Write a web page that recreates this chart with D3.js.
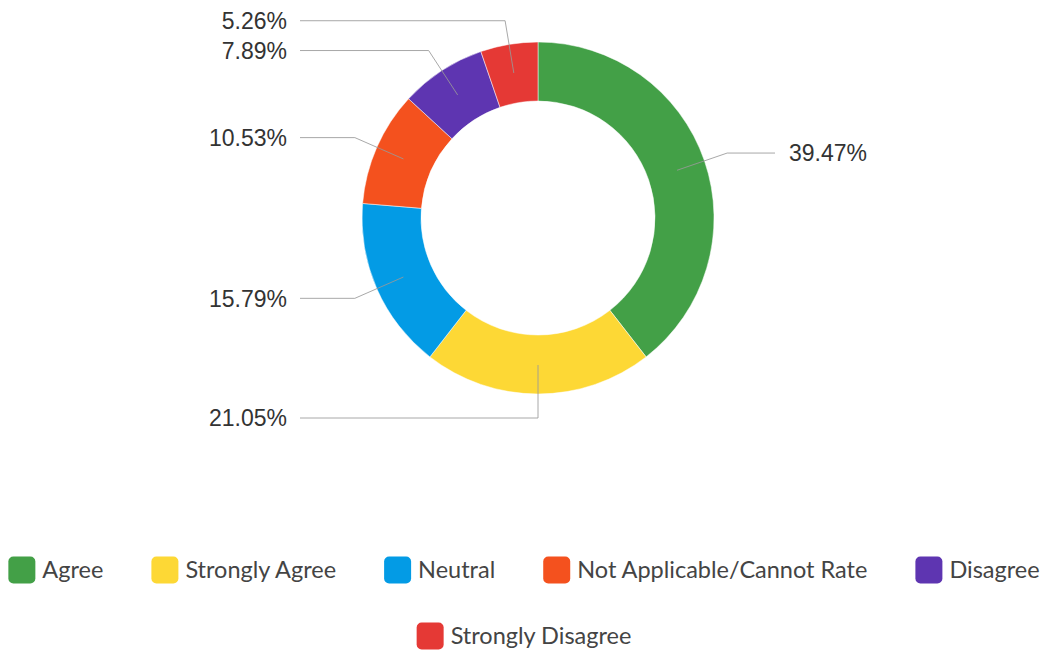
<!DOCTYPE html>
<html><head><meta charset="utf-8">
<script src="https://cdn.jsdelivr.net/npm/d3@7"></script>
<style>body{margin:0;background:#fff;}svg{display:block;}</style>
</head><body>
<svg id="c" width="1044" height="655"></svg>
<script>
const categories = ["Agree","Strongly Agree","Neutral","Not Applicable/Cannot Rate","Disagree","Strongly Disagree"];
const values = [39.47, 21.05, 15.79, 10.53, 7.89, 5.26];
const labels = ["39.47%","21.05%","15.79%","10.53%","7.89%","5.26%"];
const colors = ["#43a047","#fdd835","#039be5","#f4511e","#5e35b1","#e53935"];

const svg = d3.select("#c");
const cx = 538, cy = 218, R = 176, r = 117;
const data = categories.map((c,i)=>({cat:c, value:values[i], label:labels[i], color:colors[i]}));
const pie = d3.pie().value(d=>d.value).sort(null);
const arcs = pie(data);
const arc = d3.arc().innerRadius(r).outerRadius(R);
const g = svg.append("g").attr("transform",`translate(${cx},${cy})`);
g.selectAll("path").data(arcs).join("path").attr("d",arc).attr("fill",d=>d.data.color)
  .attr("stroke","#fff").attr("stroke-width",0.5);

const inner = d3.arc().innerRadius(147).outerRadius(147);
const elbow = d3.arc().innerRadius(200).outerRadius(200);
arcs.forEach(a=>{
  const p1 = inner.centroid(a), p2 = elbow.centroid(a);
  const mid = (a.startAngle+a.endAngle)/2;
  const right = mid < Math.PI - 0.01;
  const xEnd = right ? 775 - cx : 300 - cx;
  g.append("polyline").attr("points",[p1,p2,[xEnd,p2[1]]].map(p=>p.join(",")).join(" "))
    .attr("fill","none").attr("stroke","#999").attr("stroke-width",1).attr("opacity",0.85);
  g.append("text").attr("x", right ? xEnd+14 : xEnd-13).attr("y",p2[1])
    .attr("dy","0.36em").attr("text-anchor", right?"start":"end")
    .attr("font-family","'Liberation Sans', Arial, sans-serif").attr("font-size",23)
    .attr("fill","#333").text(a.data.label);
});

// legend
const rows = [[0,1,2,3,4],[5]];
const rowY = [570, 636];
const sw = 27, gapT = 7, gapI = 48;
const font = "Lato, sans-serif", fs = 23.5;
rows.forEach((row,ri)=>{
  const lg = svg.append("g");
  let x = 0;
  row.forEach(i=>{
    const it = lg.append("g").attr("transform",`translate(${x},0)`);
    it.append("rect").attr("x",0).attr("y",rowY[ri]-sw/2).attr("width",sw).attr("height",sw)
      .attr("rx",5).attr("fill",colors[i]);
    const t = it.append("text").attr("x",sw+gapT).attr("y",rowY[ri]).attr("dy","0.36em")
      .attr("font-family",font).attr("font-size",fs).attr("fill","#444").text(categories[i]);
    x += sw + gapT + t.node().getComputedTextLength() + gapI;
  });
  const w = x - gapI;
  lg.attr("transform",`translate(${(1044-w)/2 + 2},0)`);
});
</script>
</body></html>
